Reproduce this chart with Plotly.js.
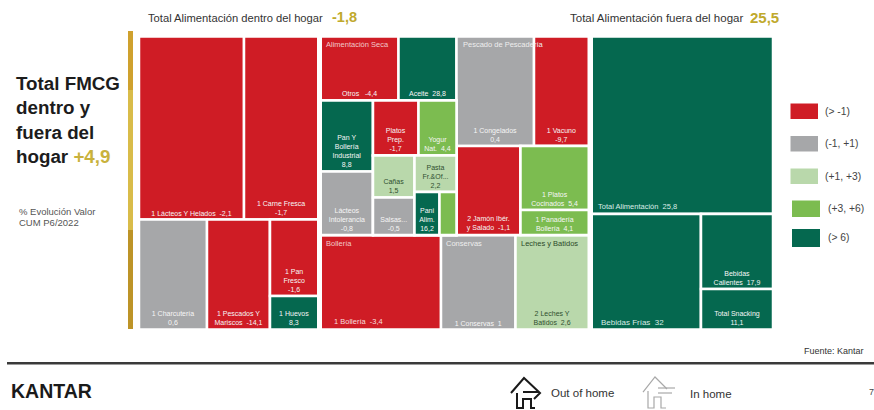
<!DOCTYPE html>
<html><head><meta charset="utf-8">
<script src="https://cdn.plot.ly/plotly-3.0.1.min.js"></script>
<style>html,body{margin:0;padding:0;background:#fff;overflow:hidden}#c{width:874px;height:410px}</style>
</head><body><div id="c"></div>
<script>
const RED='#cf1c25',GRAY='#a6a7a9',LIGHT='#b9d8ab',GREEN='#7cbc50',DARK='#05684f',W='#ffffff',INK='#2f4f2f';
// Hierarchy of the treemap: ids, parents, relative sizes (only leaves carry a size)
const ids=['Total','A','AT','Lacteos','Carne','AB','Charcuteria','Pescados','PH','Pan','Huevos','Sep1',
 'B','BU','BL','R1','AlimSeca','Aceite','R2','C1','PanBolleria','LactInt','C2','C2T','PlatosP','Yogur','C2B','B1','Canas','Salsas','B2','Pasta','B3','Panes','Arroz',
 'BR','BRT','Congelados','Vacuno','BRB','Jamon','PC','Cocinados','Panaderia',
 'BB','Bolleria','Conservas','Leches','Sep2',
 'F','TotalAlim','FB','Frias','FR','Calientes','Snacking'];
const parents=['','Total','A','AT','AT','A','AB','AB','AB','PH','PH','Total',
 'Total','B','BU','BL','R1','R1','BL','R2','C1','C1','R2','C2','C2T','C2T','C2','C2B','B1','B1','C2B','B2','B2','B3','B3',
 'BU','BR','BRT','BRT','BR','BRB','BRB','PC','PC',
 'B','BB','BB','BB','Total',
 'Total','F','F','FB','FB','FR','FR'];
const sizes=[0,0,0,192.15,135.88,0,74.8,69.3,0,36.91,16.16,7.325,
 0,0,0,0,49.76,37.12,0,0,37.10,33.18,0,0,25.025,20.9,0,0,17.43,15.5625,0,15.33,0,10.75,7.31,
 0,0,84.86,59.95,0,56.96,0,43.68,17.06,
 0,113.64,70.40,69.22,8.79,
 0,321.72,0,126.18,0,54,29.16];
const colors=[W,W,W,RED,RED,W,GRAY,RED,W,RED,DARK,W,
 W,W,W,W,RED,DARK,W,W,DARK,GRAY,W,W,RED,GREEN,W,W,LIGHT,GRAY,W,LIGHT,W,DARK,GREEN,
 W,W,GRAY,RED,W,RED,W,GREEN,GREEN,
 W,RED,GRAY,LIGHT,W,
 W,DARK,W,DARK,W,DARK,DARK];
const cellText={Lacteos:'1 Lácteos Y Helados  -2,1',Carne:'1 Carne Fresca<br>-1,7',Charcuteria:'1 Charcutería<br>0,6',
 Pescados:'1 Pescados Y<br>Mariscos  -14,1',Pan:'1 Pan<br>Fresco<br>-1,6',Huevos:'1 Huevos<br>8,3',
 AlimSeca:'Otros   -4,4',Aceite:'Aceite  28,8',PanBolleria:'Pan Y<br>Bollería<br>Industrial<br>8,8',LactInt:'Lácteos<br>Intolerancia<br>-0,8',
 PlatosP:'Platos<br>Prep.<br>-1,7',Yogur:'Yogur<br>Nat.  4,4',Canas:'Cañas<br>1,5',Salsas:'Salsas...<br>-0,5',
 Pasta:'Pasta<br>Fr.&amp;Of...<br>2,2',Panes:'Pani<br>Alim.<br>16,2',Arroz:'',
 Congelados:'1 Congelados<br>0,4',Vacuno:'1 Vacuno<br>-9,7',Jamon:'2 Jamón Ibér.<br>y Salado  -1,1',
 Cocinados:'1 Platos<br>Cocinados  5,4',Panaderia:'1 Panadería<br>Bollería  4,1',
 Conservas:'1 Conservas  1',Leches:'2 Leches Y<br>Batidos  2,6',Calientes:'Bebidas<br>Calientes  17,9',Snacking:'Total Snacking<br>11,1'};
const darkText=['Canas','Pasta','Leches'];
// Headers and left-aligned cell captions
const capText=['Alimentación Seca','Pescado de Pescadería','Bollería','Conservas','Leches y Batidos','1 Bollería  -3,4','Total Alimentación  25,8','Bebidas Frías  32'];
const capX=[325,462,325,445,520,333,597,600];
const capY=[45,45,243,243,243,321,206,322];
const capSize=[7.5,7.5,7.5,7.5,7.5,7.5,7.5,8];
const capColor=['#f2c9c9','#eeeeee','#f2c9c9','#eeeeee','#2c4a2a','#f7dede','#d9ece6','#d9ece6'];
const legendLabels=['(> -1)','(-1, +1)','(+1, +3)','(+3, +6)','(> 6)'];
const legendColors=[RED,GRAY,LIGHT,GREEN,DARK];
const legendTop=[103.5,136,168.5,200.5,229];
const legendBot=[119,151.5,184,217,247];
const legendL=[790.5,790.5,790.5,792,792];
const legendR=[818,818,818,820,820];
const legendTextX=[824,824,824,827,827];

const X=p=>p/874, Y=p=>1-p/410;
const FONT='Liberation Sans, Arial, sans-serif';
const ann=(t,x,y,size,color,extra)=>Object.assign({text:t,x:X(x),y:Y(y),xref:'paper',yref:'paper',showarrow:false,xanchor:'left',yanchor:'middle',
 align:'left',font:{family:FONT,size:size,color:color},borderpad:0},extra||{});
const rect=(x0,y0,x1,y1,c)=>({type:'rect',xref:'paper',yref:'paper',x0:X(x0),x1:X(x1),y0:Y(y0),y1:Y(y1),fillcolor:c,line:{width:0},layer:'above'});
const poly=(pts,c,w)=>({type:'path',xref:'paper',yref:'paper',layer:'above',
 path:pts.map((p,i)=>(i?'L':'M')+X(p[0]).toFixed(5)+' '+Y(p[1]).toFixed(5)).join(' '),line:{color:c,width:w},fillcolor:'rgba(0,0,0,0)'});

const shapes=[
 rect(128,31,133,90,'#cfa12e'),rect(128,90,133,230,'#d9bc4a'),rect(128,230,133,329,'#bd9428'),
 rect(7,362,874,364.5,'#3a3a3a'),
 ...legendColors.map((c,i)=>rect(legendL[i],legendTop[i],legendR[i],legendBot[i],c)),
 poly([[511,393],[524,378],[540,393],[534,399]],'#1a1a1a',2),
 poly([[517,393],[517,408],[523,408],[523,399],[531,399],[531,408],[535,408]],'#1a1a1a',2),
 poly([[523,392],[539,392]],'#1a1a1a',2),
 poly([[643,392],[655,377],[667,389]],'#a8a8a8',1.2),
 poly([[648,391],[648,408],[654,408],[654,397],[661,397],[661,408],[666,408]],'#a8a8a8',1.2),
 poly([[658,388],[675,388]],'#a8a8a8',1.2),
 poly([[658,393],[672,393]],'#a8a8a8',1.2)
];
const annotations=[
 ann('Total Alimentación dentro del hogar',147,18,11.2,'#333'),
 ann('<b>-1,8</b>',331,17,14.5,'#c0a92c'),
 ann('Total Alimentación fuera del hogar',569,18,11.5,'#333'),
 ann('<b>25,5</b>',749,17,15,'#c0a92c'),
 ann('<b>Total FMCG<br>dentro y<br>fuera del<br>hogar <span style="color:#c9b23c">+4,9</span></b>',15,120,18.8,'#1c1c1c'),
 ann('% Evolución Valor',18,211,9.5,'#555'),
 ann('CUM P6/2022',18,222,9.5,'#555'),
 ann('Fuente: Kantar',803,351,9,'#333'),
 ann('<b>KANTAR</b>',10,391,19.5,'#1a1a1a'),
 ann('Out of home',550,393,11.5,'#333'),
 ann('In home',689,394,11.5,'#333'),
 ann('7',868,392,9,'#444'),
 ...legendLabels.map((t,i)=>ann(t,legendTextX[i],(legendTop[i]+legendBot[i])/2,10.3,'#444')),
 ...capText.map((t,i)=>ann(t,capX[i],capY[i],capSize[i],capColor[i]))
];
const trace={type:'treemap',ids:ids,labels:ids,parents:parents,values:sizes,branchvalues:'remainder',sort:false,
 text:ids.map(k=>cellText[k]||''),textinfo:'text',textposition:'bottom center',hoverinfo:'skip',
 textfont:{family:FONT,size:7,color:ids.map(k=>darkText.includes(k)?INK:'#f6f6f6')},
 tiling:{packing:'slice-dice',pad:0},pathbar:{visible:false},
 marker:{colors:colors,line:{color:'#ffffff',width:2.5},pad:{t:0,l:0,r:0,b:0},depthfade:false},
 domain:{x:[X(139),X(773)],y:[Y(329.5),Y(36.5)]}};
Plotly.newPlot('c',[trace],{width:874,height:410,margin:{l:0,r:0,t:0,b:0},paper_bgcolor:'#fff',showlegend:false,shapes:shapes,annotations:annotations},{displayModeBar:false,staticPlot:true});
</script></body></html>
